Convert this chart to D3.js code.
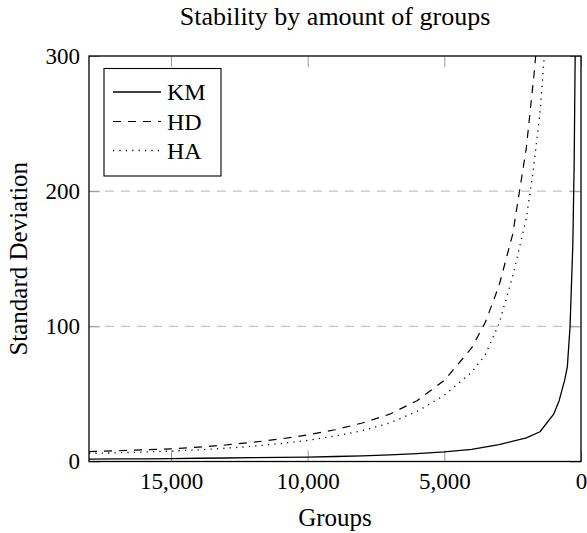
<!DOCTYPE html>
<html>
<head>
<meta charset="utf-8">
<script src="https://cdn.jsdelivr.net/npm/d3@7"></script>
<style>
  html, body { margin: 0; padding: 0; background: #fff; }
  svg { display: block; }
  text { font-family: "Liberation Serif", "DejaVu Serif", serif; fill: #000; }
</style>
</head>
<body>
<svg id="chart" width="587" height="533"></svg>
<script>
// ---- data ----
const title = "Stability by amount of groups";
const xLabel = "Groups";
const yLabel = "Standard Deviation";
const seriesNames = ["KM", "HD", "HA"];

const kmGroups = [18000,17000,16000,15000,14000,13000,12000,11000,10000,9000,8000,7000,6000,5000,4000,3000,2000,1500,1000,800,600,500,400,300,250,200];
const kmValues = [1.8,1.9,2.0,2.2,2.4,2.6,2.8,3.0,3.3,3.7,4.2,4.9,5.8,7.1,9.0,12.5,17.5,22,35,45,60,70,100,160,220,330];

const hdGroups = [18000,17000,16000,15000,14000,13000,12000,11000,10000,9000,8000,7000,6000,5000,4000,3500,3000,2500,2000,1700,1600];
const hdValues = [7.3,7.9,8.6,9.4,10.6,12.2,14.2,16.7,19.6,23.5,28.5,35,45,60,84,103,130,168,232,290,315];

const haGroups = [18000,17000,16000,15000,14000,13000,12000,11000,10000,9000,8000,7000,6000,5000,4000,3500,3000,2500,2000,1750,1500,1350,1300];
const haValues = [6.0,6.4,7.0,7.7,8.6,9.8,11.3,13.2,15.6,18.8,22.8,28.5,37,49,66,79,102,137,180,215,258,298,315];

const xTicks = [15000, 10000, 5000, 0];
const yTicks = [0, 100, 200, 300];
const gridValues = [100, 200];

// ---- layout ----
const svg = d3.select("#chart");
const pL = 89, pR = 581, pT = 56, pB = 461.5;
const x = d3.scaleLinear().domain([18000, 0]).range([pL, pR]);
const y = d3.scaleLinear().domain([0, 300]).range([pB, pT]);

const seriesData = [
  { name: seriesNames[0], g: kmGroups, v: kmValues, dash: null, width: 1.3 },
  { name: seriesNames[1], g: hdGroups, v: hdValues, dash: "8,7", width: 1.2 },
  { name: seriesNames[2], g: haGroups, v: haValues, dash: "1.2,5.2", width: 1.3 }
];

// clip
svg.append("defs").append("clipPath").attr("id", "plotclip")
  .append("rect").attr("x", pL).attr("y", pT).attr("width", pR - pL).attr("height", pB - pT);

// gridlines
svg.append("g").selectAll("line").data(gridValues).join("line")
  .attr("x1", pL).attr("x2", pR)
  .attr("y1", d => y(d)).attr("y2", d => y(d))
  .attr("stroke", "#b4b4b4").attr("stroke-width", 1).attr("stroke-dasharray", "9,7");

// axes (inner ticks)
const tickLen = 11;
const fmt = d3.format(",");
const gx = svg.append("g").attr("transform", `translate(0,${pB})`)
  .call(d3.axisBottom(x).tickValues(xTicks).tickFormat(fmt).tickSizeInner(-tickLen).tickSizeOuter(0).tickPadding(11));
const gxTop = svg.append("g").attr("transform", `translate(0,${pT})`)
  .call(d3.axisTop(x).tickValues(xTicks).tickFormat("").tickSizeInner(-tickLen).tickSizeOuter(0));
const gy = svg.append("g").attr("transform", `translate(${pL},0)`)
  .call(d3.axisLeft(y).tickValues(yTicks).tickSizeInner(-tickLen).tickSizeOuter(0).tickPadding(9));
const gyRight = svg.append("g").attr("transform", `translate(${pR},0)`)
  .call(d3.axisRight(y).tickValues(yTicks).tickFormat("").tickSizeInner(-tickLen).tickSizeOuter(0));

[gx, gxTop, gy, gyRight].forEach(g => {
  g.select(".domain").remove();
  g.selectAll(".tick line").attr("stroke", "#9a9a9a").attr("stroke-width", 1);
  g.selectAll(".tick text").attr("font-family", "Liberation Serif, DejaVu Serif, serif").attr("font-size", 23).attr("fill", "#000");
});

// lines
const line = d3.line().x(d => x(d[0])).y(d => y(d[1]));
svg.append("g").attr("clip-path", "url(#plotclip)")
  .selectAll("path").data(seriesData).join("path")
  .attr("d", s => line(s.g.map((g, i) => [g, s.v[i]])))
  .attr("fill", "none").attr("stroke", "#000")
  .attr("stroke-width", s => s.width)
  .attr("stroke-dasharray", s => s.dash)
  .attr("stroke-linejoin", "round");

// frame
svg.append("rect").attr("x", pL).attr("y", pT).attr("width", pR - pL).attr("height", pB - pT)
  .attr("fill", "none").attr("stroke", "#000").attr("stroke-width", 1.3);

// legend
const lg = svg.append("g");
lg.append("rect").attr("x", 104).attr("y", 68.5).attr("width", 117).attr("height", 107.5)
  .attr("fill", "#fff").attr("stroke", "#000").attr("stroke-width", 1.1);
const rowY = [92, 121.5, 150.5];
seriesData.forEach((s, i) => {
  lg.append("line").attr("x1", 113).attr("x2", 161).attr("y1", rowY[i]).attr("y2", rowY[i])
    .attr("stroke", "#000").attr("stroke-width", s.width).attr("stroke-dasharray", s.dash);
  lg.append("text").attr("x", 167).attr("y", rowY[i]).attr("dy", "0.35em")
    .attr("font-size", 24).text(s.name);
});

// titles
svg.append("text").attr("x", 335).attr("y", 25).attr("text-anchor", "middle").attr("font-size", 26).text(title);
svg.append("text").attr("x", 335).attr("y", 526).attr("text-anchor", "middle").attr("font-size", 25).text(xLabel);
svg.append("text").attr("transform", `translate(27,${(pT + pB) / 2}) rotate(-90)`)
  .attr("text-anchor", "middle").attr("font-size", 25).text(yLabel);
</script>
</body>
</html>
